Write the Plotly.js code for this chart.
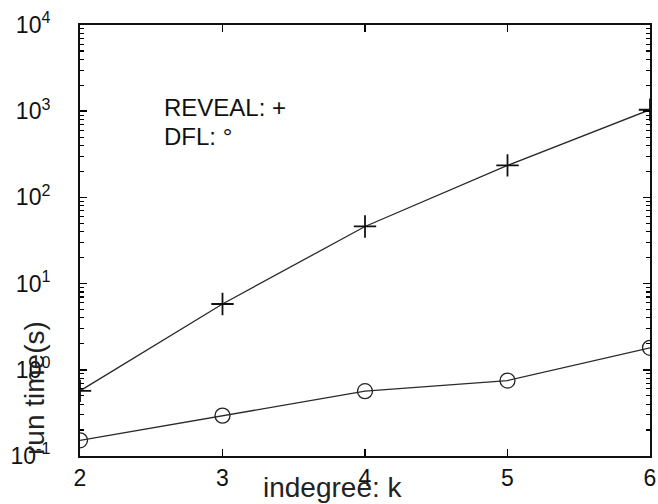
<!DOCTYPE html>
<html><head><meta charset="utf-8">
<script src="https://cdn.plot.ly/plotly-3.0.1.min.js"></script>
<style>html,body{margin:0;padding:0;background:#fff}#chart{width:658px;height:504px}</style>
</head><body><div id="chart"></div>
<script>
// Data
const indegree = [2, 3, 4, 5, 6];
const revealTime = [0.57, 5.8, 46, 235, 1040];
const dflTime = [0.152, 0.294, 0.565, 0.75, 1.8];

const xTickVals = [2, 3, 4, 5, 6];
const xTickText = ['2', '3', '4', '5', '6'];
const yTickVals = [0.1, 1, 10, 100, 1000, 10000];
const yTickText = ['10<sup>-1</sup>', '10<sup>0</sup>', '10<sup>1</sup>', '10<sup>2</sup>', '10<sup>3</sup>', '10<sup>4</sup>'];
const minorDigits = [2, 3, 4, 5, 6, 7, 8, 9];
const decades = [0.1, 1, 10, 100, 1000];

const xTitle = 'indegree: k';
const yTitle = 'run time(s)';
const revealLabel = 'REVEAL: +';
const dflLabel = 'DFL: °';

// minor log tick positions (2..9 in each decade)
const minorVals = [];
decades.forEach(d => minorDigits.forEach(m => minorVals.push(d * m)));

const FONT = 'Liberation Sans, Arial, Helvetica, sans-serif';
const lineCol = '#2a2a2a';

const traces = [
  {x: indegree, y: revealTime, type: 'scatter', mode: 'lines+markers', name: 'REVEAL',
   line: {color: lineCol, width: 1.3},
   marker: {symbol: 'cross-thin-open', size: 16, color: '#111', line: {color: '#111', width: 1.8}}},
  {x: indegree, y: dflTime, type: 'scatter', mode: 'lines+markers', name: 'DFL',
   line: {color: lineCol, width: 1.3},
   marker: {symbol: 'circle-open', size: 15, color: '#222', line: {color: '#222', width: 1.3}}}
];

const axisCommon = {
  showgrid: false, zeroline: false, showline: true, linecolor: '#111', linewidth: 2,
  mirror: 'allticks', ticks: 'inside', ticklen: 7, tickwidth: 1.5, tickcolor: '#000',
  tickfont: {family: FONT, size: 23, color: '#111'}
};

const layout = {
  width: 658, height: 504,
  margin: {l: 80, r: 8, t: 25, b: 48},
  paper_bgcolor: '#fff', plot_bgcolor: '#fff',
  showlegend: false,
  font: {family: FONT, color: '#111'},
  xaxis: Object.assign({}, axisCommon, {
    range: [2, 6], tickmode: 'array', tickvals: xTickVals, ticktext: xTickText
  }),
  yaxis: Object.assign({}, axisCommon, {
    type: 'log', range: [-1, 4], tickmode: 'array', tickvals: yTickVals,
    ticktext: yTickText.map(t => t + '\u2003'),
    minor: {tickmode: 'array', tickvals: minorVals, ticks: 'inside', ticklen: 4, tickwidth: 1.1, tickcolor: '#000'}
  }),
  annotations: [
    {text: revealLabel, xref: 'paper', yref: 'paper', x: (162 - 80) / 570, y: (456 - 108) / 431,
     xanchor: 'left', yanchor: 'middle', showarrow: false, font: {family: FONT, size: 24, color: '#111'}},
    {text: dflLabel, xref: 'paper', yref: 'paper', x: (162 - 80) / 570, y: (456 - 136) / 431,
     xanchor: 'left', yanchor: 'middle', showarrow: false, font: {family: FONT, size: 24, color: '#111'}},
    {text: xTitle, xref: 'paper', yref: 'paper', x: (333 - 80) / 570, y: (456 - 487) / 431,
     xanchor: 'center', yanchor: 'middle', showarrow: false, font: {family: FONT, size: 28, color: '#222'}},
    {text: yTitle, xref: 'paper', yref: 'paper', x: (34 - 80) / 570, y: (456 - 388) / 431,
     xanchor: 'center', yanchor: 'middle', textangle: -90, showarrow: false, font: {family: FONT, size: 28, color: '#222'}}
  ]
};

Plotly.newPlot('chart', traces, layout, {displayModeBar: false, staticPlot: true});
</script>
</body></html>
